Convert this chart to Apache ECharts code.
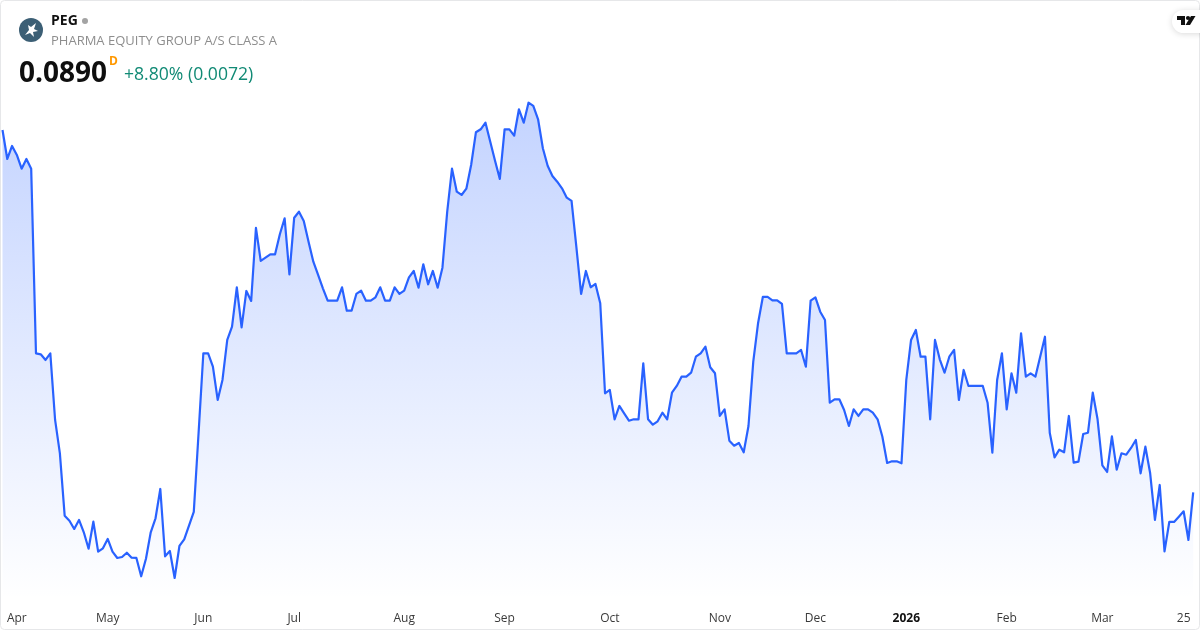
<!DOCTYPE html>
<html>
<head>
<meta charset="utf-8">
<title>PEG</title>
<script src="https://cdn.jsdelivr.net/npm/echarts@6/dist/echarts.min.js"></script>
<style>
  html, body { margin: 0; padding: 0; background: #fff; }
  #chart { width: 1200px; height: 630px; }
</style>
</head>
<body>
<div id="chart"></div>
<script>
// daily closes
const closes = [
  0.14335, 0.13900, 0.14095, 0.13960, 0.13754, 0.13900, 0.13754, 0.10985, 0.10970, 0.10885,
  0.10985, 0.09985, 0.09485, 0.08549, 0.08474, 0.08350, 0.08485, 0.08300, 0.08054, 0.08459,
  0.08009, 0.08060, 0.08200, 0.08009, 0.07915, 0.07930, 0.07994, 0.07919, 0.07915, 0.07640,
  0.07904, 0.08300, 0.08510, 0.08950, 0.07940, 0.08020, 0.07615, 0.08095, 0.08195, 0.08399,
  0.08605, 0.09785, 0.10985, 0.10985, 0.10784, 0.10285, 0.10585, 0.11185, 0.11384, 0.11975,
  0.11375, 0.11920, 0.11770, 0.12865, 0.12370, 0.12419, 0.12470, 0.12470, 0.12770, 0.13010,
  0.12170, 0.13019, 0.13109, 0.12970, 0.12659, 0.12359, 0.12160, 0.11960, 0.11774, 0.11774,
  0.11774, 0.11975, 0.11624, 0.11624, 0.11875, 0.11924, 0.11774, 0.11774, 0.11825, 0.11975,
  0.11774, 0.11774, 0.11975, 0.11875, 0.11924, 0.12125, 0.12220, 0.11969, 0.12320, 0.12020,
  0.12220, 0.11969, 0.12269, 0.13109, 0.13754, 0.13409, 0.13360, 0.13454, 0.13810, 0.14300,
  0.14345, 0.14444, 0.14159, 0.13874, 0.13600, 0.14345, 0.14345, 0.14249, 0.14645, 0.14444,
  0.14744, 0.14695, 0.14495, 0.14060, 0.13799, 0.13645, 0.13559, 0.13460, 0.13319, 0.13270,
  0.12584, 0.11875, 0.12220, 0.11975, 0.12025, 0.11735, 0.10385, 0.10435, 0.09995, 0.10195,
  0.10085, 0.09974, 0.09995, 0.09995, 0.10835, 0.09995, 0.09914, 0.09965, 0.10094, 0.09995,
  0.10394, 0.10495, 0.10634, 0.10634, 0.10694, 0.10934, 0.10985, 0.11084, 0.10775, 0.10685,
  0.10045, 0.10145, 0.09674, 0.09599, 0.09640, 0.09500, 0.09895, 0.10859, 0.11435, 0.11830,
  0.11830, 0.11780, 0.11780, 0.11725, 0.10985, 0.10985, 0.10985, 0.11035, 0.10784, 0.11774,
  0.11825, 0.11609, 0.11485, 0.10244, 0.10295, 0.10295, 0.10135, 0.09895, 0.10145, 0.10045,
  0.10145, 0.10145, 0.10094, 0.09995, 0.09734, 0.09340, 0.09365, 0.09365, 0.09335, 0.10585,
  0.11185, 0.11335, 0.10934, 0.10934, 0.09995, 0.11185, 0.10895, 0.10694, 0.10934, 0.11035,
  0.10285, 0.10735, 0.10495, 0.10495, 0.10495, 0.10495, 0.10244, 0.09494, 0.10585, 0.10985,
  0.10145, 0.10685, 0.10394, 0.11285, 0.10634, 0.10685, 0.10634, 0.10934, 0.11234, 0.09794,
  0.09425, 0.09539, 0.09500, 0.10045, 0.09344, 0.09359, 0.09775, 0.09794, 0.10394, 0.09995,
  0.09305, 0.09205, 0.09740, 0.09239, 0.09485, 0.09464, 0.09565, 0.09685, 0.09185, 0.09584,
  0.09185, 0.08485, 0.09010, 0.08015, 0.08455, 0.08455, 0.08534, 0.08615, 0.08185, 0.08900
];
const tickIndex = [3, 22, 42, 61, 84, 105, 127, 150, 170, 189, 210, 230, 247];
const tickText = ['Apr', 'May', 'Jun', 'Jul', 'Aug', 'Sep', 'Oct', 'Nov', 'Dec', '2026', 'Feb', 'Mar', '25'];
const categories = closes.map((c, i) => i);

const FONT = '"Open Sans", sans-serif';
const chart = echarts.init(document.getElementById('chart'), null, { renderer: 'canvas' });

var option = {
  backgroundColor: '#ffffff',
  animation: false,
  grid: { left: 2.5, right: 6.8, top: 0, height: 600, containLabel: false },
  xAxis: {
    type: 'category',
    boundaryGap: false,
    data: categories,
    axisLine: { show: false },
    axisTick: { show: false },
    splitLine: { show: false },
    axisLabel: {
      interval: (i) => tickIndex.includes(i),
      margin: 13,
      fontFamily: FONT,
      fontSize: 12,
      color: '#3a3a3a',
      formatter: (v) => {
        const t = tickText[tickIndex.indexOf(Number(v))];
        return t === '2026' ? '{b|2026}' : t;
      },
      rich: { b: { fontFamily: FONT, fontSize: 12, fontWeight: 700, color: '#111111' } }
    }
  },
  yAxis: { type: 'value', show: false, min: 0.072845, max: 0.162845, splitLine: { show: false } },
  series: [{
    type: 'line',
    data: closes,
    symbol: 'none',
    smooth: false,
    lineStyle: { color: '#2962ff', width: 2.2, join: 'round' },
    areaStyle: {
      opacity: 1,
      color: {
        type: 'linear', x: 0, y: 0, x2: 0, y2: 1,
        colorStops: [
          { offset: 0, color: 'rgba(41,98,255,0.28)' },
          { offset: 1, color: 'rgba(41,98,255,0)' }
        ]
      }
    }
  }],
  graphic: [
    // card border
    { type: 'rect', z: 5, shape: { x: 0.5, y: 0.5, width: 1199, height: 629, r: 4 }, style: { fill: 'none', stroke: '#e6e7e9', lineWidth: 1 } },
    // logo
    { type: 'circle', z: 10, shape: { cx: 31, cy: 30, r: 12 }, style: { fill: '#3c5f75' } },
    { type: 'polygon', z: 11, shape: { points: [[25, 35], [29, 30], [28, 25], [31, 27], [36, 23], [34, 29], [38, 31], [33, 32], [34, 37], [30, 33]] }, style: { fill: '#ffffff' } },
    // header text
    { type: 'text', z: 10, style: { x: 51, y: 21, text: 'PEG', fontFamily: FONT, fontSize: 14, fontWeight: 700, fill: '#111111', verticalAlign: 'middle' } },
    { type: 'circle', z: 10, shape: { cx: 85, cy: 21, r: 3 }, style: { fill: '#a3a3a3' } },
    { type: 'text', z: 10, style: { x: 51, y: 41, text: 'PHARMA EQUITY GROUP A/S CLASS A', fontFamily: FONT, fontSize: 13, fill: '#8e8e8e', verticalAlign: 'middle' } },
    { type: 'text', z: 10, style: { x: 19, y: 74, text: '0.0890', fontFamily: FONT, fontSize: 28, fontWeight: 700, fill: '#0f0f0f', verticalAlign: 'middle' } },
    { type: 'text', z: 10, style: { x: 109, y: 62, text: 'D', fontFamily: FONT, fontSize: 12, fontWeight: 700, fill: '#ff9800', verticalAlign: 'middle' } },
    { type: 'text', z: 10, style: { x: 124, y: 75, text: '+8.80% (0.0072)', fontFamily: FONT, fontSize: 17.6, fill: '#118a75', verticalAlign: 'middle' } },
    // tradingview badge
    { type: 'rect', z: 10, shape: { x: 1172, y: 10, width: 40, height: 23, r: 11.5 }, style: { fill: '#ffffff', shadowBlur: 6, shadowColor: 'rgba(0,0,0,0.15)', shadowOffsetY: 1 } },
    { type: 'polygon', z: 11, shape: { points: [[1177, 16], [1185, 16], [1185, 25], [1181, 25], [1181, 20], [1177, 20]] }, style: { fill: '#111111' } },
    { type: 'circle', z: 11, shape: { cx: 1188, cy: 18, r: 2.1 }, style: { fill: '#111111' } },
    { type: 'polygon', z: 11, shape: { points: [[1191, 16], [1195.5, 16], [1190, 25], [1185.5, 25]] }, style: { fill: '#111111' } }
  ]
};

chart.setOption(option);
</script>
</body>
</html>
